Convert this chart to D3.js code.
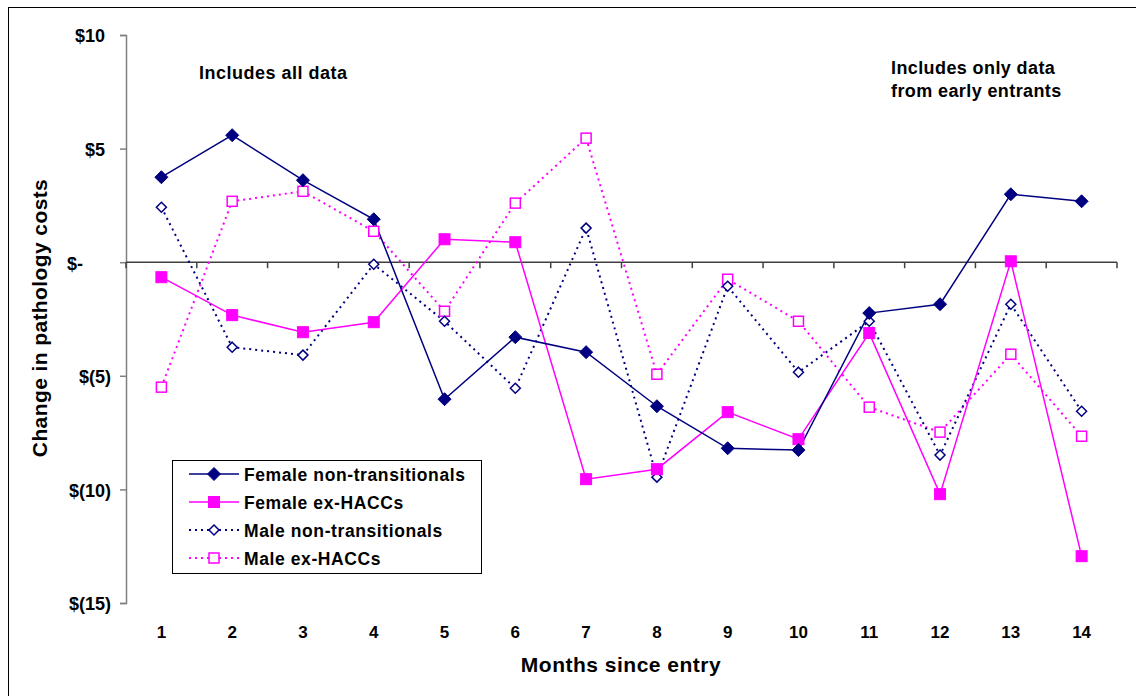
<!DOCTYPE html>
<html>
<head>
<meta charset="utf-8">
<script src="https://cdn.jsdelivr.net/npm/d3@7"></script>
<style>
  html, body { margin: 0; padding: 0; background: #fff; }
  svg { display: block; font-family: "Liberation Sans", Arial, sans-serif; }
</style>
</head>
<body>
<svg id="chart" width="1136" height="696"></svg>
<script>
// Months since entry
const months = [1, 2, 3, 4, 5, 6, 7, 8, 9, 10, 11, 12, 13, 14];

// Change in pathology costs ($) per group
const femaleNonTransitionals = [3.74, 5.59, 3.61, 1.89, -6.03, -3.30, -3.96, -6.34, -8.19, -8.27, -2.24, -1.85, 2.99, 2.68];
const femaleExHACCs          = [-0.66, -2.33, -3.08, -2.64, 1.01, 0.88, -9.55, -9.11, -6.60, -7.79, -3.12, -10.21, 0.04, -12.94];
const maleNonTransitionals   = [2.42, -3.74, -4.09, -0.09, -2.60, -5.55, 1.50, -9.46, -1.06, -4.84, -2.60, -8.49, -1.85, -6.56];
const maleExHACCs            = [-5.50, 2.68, 3.12, 1.36, -2.16, 2.60, 5.46, -4.93, -0.75, -2.60, -6.38, -7.48, -4.05, -7.66];

const yTicks = [10, 5, 0, -5, -10, -15];
const seriesNames = ["Female non-transitionals", "Female ex-HACCs", "Male non-transitionals", "Male ex-HACCs"];

const navy = "#000080", magenta = "#FF00FF";
const series = [
  { name: seriesNames[0], values: femaleNonTransitionals, color: navy,    dash: null,  marker: "diamond", filled: true },
  { name: seriesNames[1], values: femaleExHACCs,          color: magenta, dash: null,  marker: "square",  filled: true },
  { name: seriesNames[2], values: maleNonTransitionals,   color: navy,    dash: "2,4", marker: "diamond", filled: false },
  { name: seriesNames[3], values: maleExHACCs,            color: magenta, dash: "2,4", marker: "square",  filled: false }
];

const svg = d3.select("#chart");

// outer chart frame
svg.append("rect").attr("x", 8.5).attr("y", 7.5).attr("width", 1140).attr("height", 700)
  .attr("fill", "none").attr("stroke", "#000").attr("stroke-width", 1);

const plot = { left: 126, right: 1117, top: 35, bottom: 603 };

const x = d3.scaleBand().domain(months).range([plot.left, plot.right]);
const y = d3.scaleLinear().domain([-15, 10]).range([plot.bottom, plot.top]);
const cx = m => x(m) + x.bandwidth() / 2;

// accounting-style labels: negatives in parentheses, zero as a dash
const fmt = v => v === 0 ? "$-" : (v < 0 ? "$(" + Math.abs(v) + ")" : "$" + v);
// right edges line up digits: positives leave room for ")", zero leaves room for two digits too
const labelShift = v => v < 0 ? 0 : (v > 0 ? 6 : 28);

// y axis
const yAxis = svg.append("g").attr("transform", `translate(${plot.left},0)`)
  .call(d3.axisLeft(y).tickValues(yTicks).tickFormat(fmt).tickSize(6).tickPadding(9));
yAxis.select(".domain").attr("stroke", "#808080").attr("stroke-width", 1.5);
yAxis.selectAll(".tick line").attr("stroke", "#808080").attr("stroke-width", 1.5);
yAxis.selectAll(".tick text")
  .attr("x", d => -15 - labelShift(d)).attr("dy", "0.38em")
  .attr("font-size", 18).attr("font-weight", "bold")
  .attr("fill", "#000").attr("font-family", "Liberation Sans, Arial, sans-serif");

// x axis along zero, with tick marks at category boundaries
const xg = svg.append("g");
xg.append("line").attr("x1", plot.left).attr("x2", plot.right)
  .attr("y1", y(0)).attr("y2", y(0)).attr("stroke", "#404040").attr("stroke-width", 1.5);
const boundaries = months.map(m => x(m)).concat([plot.right]);
xg.selectAll("line.tk").data(boundaries).join("line").attr("class", "tk")
  .attr("x1", d => d).attr("x2", d => d)
  .attr("y1", y(0)).attr("y2", y(0) + 6)
  .attr("stroke", "#404040").attr("stroke-width", 1.5);

// month labels below the plot
svg.append("g").selectAll("text").data(months).join("text")
  .attr("x", d => cx(d)).attr("y", 637.5)
  .attr("text-anchor", "middle").attr("font-size", 17).attr("font-weight", "bold")
  .text(d => d);

// axis titles
svg.append("text").attr("x", 621).attr("y", 672).attr("text-anchor", "middle")
  .attr("font-size", 21).attr("font-weight", "bold").attr("letter-spacing", 0.5)
  .text("Months since entry");
svg.append("text").attr("transform", "translate(47,318) rotate(-90)").attr("text-anchor", "middle")
  .attr("font-size", 21).attr("font-weight", "bold").attr("letter-spacing", 0.4)
  .text("Change in pathology costs");

// annotations
svg.append("text").attr("x", 199).attr("y", 79).attr("font-size", 18).attr("font-weight", "bold")
  .attr("letter-spacing", 0.5).text("Includes all data");
const note = svg.append("text").attr("x", 891).attr("y", 73.5).attr("font-size", 18)
  .attr("font-weight", "bold").attr("letter-spacing", 0.4);
note.append("tspan").attr("x", 891).text("Includes only data");
note.append("tspan").attr("x", 891).attr("dy", 23.5).text("from early entrants");

// marker drawing
function drawMarker(g, s, px, py) {
  if (s.marker === "diamond") {
    const r = s.filled ? 6.5 : 5;
    g.append("path").attr("d", `M${px},${py - r}L${px + r},${py}L${px},${py + r}L${px - r},${py}Z`)
      .attr("fill", s.filled ? s.color : "#fff").attr("stroke", s.color).attr("stroke-width", s.filled ? 1 : 1.5);
  } else {
    const h = s.filled ? 5.5 : 5;
    g.append("rect").attr("x", px - h).attr("y", py - h).attr("width", 2 * h).attr("height", 2 * h)
      .attr("fill", s.filled ? s.color : "#fff").attr("stroke", s.color).attr("stroke-width", s.filled ? 1 : 1.5);
  }
}

// series lines and markers
const line = d3.line().x((d, i) => cx(months[i])).y(d => y(d));
const order = [3, 2, 1, 0];
order.forEach(k => {
  const s = series[k];
  svg.append("path").datum(s.values).attr("d", line)
    .attr("fill", "none").attr("stroke", s.color).attr("stroke-width", s.dash ? 2 : 1.5)
    .attr("stroke-dasharray", s.dash);
});
order.forEach(k => {
  const s = series[k];
  const g = svg.append("g");
  s.values.forEach((v, i) => drawMarker(g, s, cx(months[i]), y(v)));
});

// legend
const lg = svg.append("g").attr("transform", "translate(172,460)");
lg.append("rect").attr("x", 0.5).attr("y", 0.5).attr("width", 309).attr("height", 113)
  .attr("fill", "#fff").attr("stroke", "#000").attr("stroke-width", 1);
series.forEach((s, i) => {
  const yy = 14 + i * 28;
  lg.append("line").attr("x1", 17).attr("x2", 67).attr("y1", yy).attr("y2", yy)
    .attr("stroke", s.color).attr("stroke-width", s.dash ? 2 : 1.5).attr("stroke-dasharray", s.dash);
  drawMarker(lg, s, 42, yy);
  lg.append("text").attr("x", 72).attr("y", yy + 6.5).attr("font-size", 17.5).attr("font-weight", "bold")
    .attr("letter-spacing", 0.6).text(s.name);
});
</script>
</body>
</html>
